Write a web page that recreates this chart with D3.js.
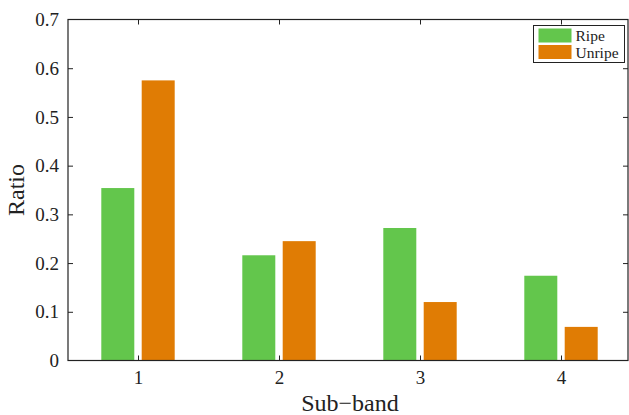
<!DOCTYPE html>
<html>
<head>
<meta charset="utf-8">
<script src="https://cdn.jsdelivr.net/npm/d3@7"></script>
<style>
  body { margin: 0; background: #fff; }
  text { font-family: "Liberation Serif", "Times New Roman", serif; fill: #222; }
</style>
</head>
<body>
<div id="chart"></div>
<script>
// data
const subBands = [1, 2, 3, 4];
const ripe   = [0.354, 0.216, 0.272, 0.174];
const unripe = [0.575, 0.245, 0.120, 0.069];
const seriesNames = ["Ripe", "Unripe"];
const yTicks = [0, 0.1, 0.2, 0.3, 0.4, 0.5, 0.6, 0.7];

const W = 629, H = 415;
const box = { left: 68, right: 628, top: 19.5, bottom: 360.5 };

const svg = d3.select("#chart").append("svg").attr("width", W).attr("height", H);

const x = d3.scaleLinear().domain([0.5, 4.5]).range([67.5, 631.5]);
const y = d3.scaleLinear().domain([0, 0.7]).range([box.bottom, box.top]);
const color = d3.scaleOrdinal().domain(seriesNames).range(["#63c64c", "#e07c04"]);

const barW = 33, off = 20.2;
const series = [ripe, unripe];

// bars
series.forEach((vals, si) => {
  svg.append("g").selectAll("rect").data(vals).join("rect")
    .attr("x", (d, i) => x(subBands[i]) + (si === 0 ? -off : off) - barW / 2)
    .attr("width", barW)
    .attr("y", d => y(d))
    .attr("height", d => box.bottom - y(d))
    .attr("fill", color(seriesNames[si]));
});

// frame + ticks (MATLAB style, ticks inward on all sides)
const tl = 5;
svg.append("rect")
  .attr("x", box.left).attr("y", box.top)
  .attr("width", box.right - box.left).attr("height", box.bottom - box.top)
  .attr("fill", "none").attr("stroke", "#222").attr("stroke-width", 1.2);

const axL = svg.append("g").attr("transform", `translate(${box.left},0)`)
  .call(d3.axisLeft(y).tickValues(yTicks).tickSize(-tl).tickPadding(tl + 4)
    .tickFormat(d => d === 0 ? "0" : d3.format(".1f")(d)));
const axR = svg.append("g").attr("transform", `translate(${box.right},0)`)
  .call(d3.axisRight(y).tickValues(yTicks).tickSize(-tl).tickFormat(""));
const axB = svg.append("g").attr("transform", `translate(0,${box.bottom})`)
  .call(d3.axisBottom(x).tickValues(subBands).tickSize(-tl).tickPadding(tl + 5).tickFormat(d3.format("d")));
const axT = svg.append("g").attr("transform", `translate(0,${box.top})`)
  .call(d3.axisTop(x).tickValues(subBands).tickSize(-tl).tickFormat(""));

[axL, axR, axB, axT].forEach(a => {
  a.select(".domain").remove();
  a.selectAll(".tick line").attr("stroke", "#222");
  a.selectAll("text").attr("font-family", "Liberation Serif").attr("font-size", 19).attr("fill", "#222");
});
[axL, axR].forEach(a => a.selectAll(".tick").filter(d => d === 0 || d === 0.7).select("line").remove());

// axis titles
svg.append("text").attr("x", (box.left + box.right) / 2 + 2).attr("y", 411)
  .attr("text-anchor", "middle").attr("font-size", 24).text("Sub\u2212band");
svg.append("text").attr("transform", `translate(24,190) rotate(-90)`)
  .attr("text-anchor", "middle").attr("font-size", 24).text("Ratio");

// legend
const lg = svg.append("g").attr("transform", "translate(533.5,25.5)");
lg.append("rect").attr("width", 91).attr("height", 37)
  .attr("fill", "#fff").attr("stroke", "#222").attr("stroke-width", 1);
const item = lg.selectAll("g.item").data(seriesNames).join("g")
  .attr("class", "item")
  .attr("transform", (d, i) => `translate(5,${3 + i * 16.5})`);
item.append("rect").attr("width", 33).attr("height", 14).attr("fill", d => color(d));
item.append("text").attr("x", 37).attr("y", 12.5).attr("font-size", 15.5).text(d => d);
</script>
</body>
</html>
